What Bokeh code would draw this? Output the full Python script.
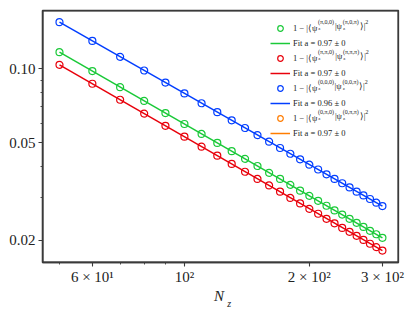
import math
from bokeh.plotting import figure
from bokeh.models import Range1d, FixedTicker, Legend, LegendItem, LogAxis
from bokeh.core.properties import value
from bokeh.embed import file_html
from bokeh.resources import INLINE

NAN = float("nan")

# ---- data ----
n_z = [50, 60, 70, 80, 90, 100, 110, 120, 130, 140, 150, 160, 170, 180,
       190, 200, 210, 220, 230, 240, 250, 260, 270, 280, 290, 300]
green_vals = [0.1168, 0.0979, 0.0842, 0.0740, 0.0660, 0.0596, 0.0543, 0.0499,
              0.0462, 0.0430, 0.0402, 0.0377, 0.0356, 0.0337, 0.0319, 0.0304,
              0.0290, 0.0277, 0.0265, 0.0255, 0.0245, 0.0236, 0.0227, 0.0219,
              0.0212, 0.0205]
red_vals = [0.1038, 0.0869, 0.0748, 0.0657, 0.0586, 0.0529, 0.0482, 0.0443,
            0.0410, 0.0381, 0.0356, 0.0335, 0.0316, 0.0298, 0.0283, 0.0269,
            0.0257, 0.0245, 0.0235, 0.0225, 0.0217, 0.0209, 0.0201, 0.0194,
            0.0188, 0.0182]
blue_vals = [0.1548, 0.1299, 0.1119, 0.0984, 0.0879, 0.0794, 0.0724, 0.0666,
             0.0617, 0.0574, 0.0537, 0.0505, 0.0476, 0.0451, 0.0428, 0.0407,
             0.0389, 0.0372, 0.0356, 0.0342, 0.0329, 0.0316, 0.0305, 0.0295,
             0.0285, 0.0276]
# the orange series shows no points or line in the picture (missing values)
orange_n = [50, 300]
orange_vals = [NAN, NAN]
fit_n = [50, 300]
fit_green = [0.1168, 0.0205]
fit_red = [0.1038, 0.0182]
fit_blue = [0.1548, 0.0276]
fit_orange = [NAN, NAN]

series_sup = [("(π,0,0)", "(π,0,π)"), ("(π,π,0)", "(π,π,π)"),
              ("(0,0,0)", "(0,0,π)"), ("(0,π,0)", "(0,π,π)")]
fit_labels = ["Fit a = 0.97 ± 0", "Fit a = 0.97 ± 0",
              "Fit a = 0.96 ± 0", "Fit a = 0.97 ± 0"]

x_ticks = [60, 100, 200, 300]
x_tick_labels = ["6 × 10¹", "10²", "2 × 10²", "3 × 10²"]
x_minor = [50, 70, 80, 90]
y_ticks = [0.02, 0.05, 0.1]
y_tick_labels = ["0.02", "0.05", "0.10"]
y_minor = [0.03, 0.04, 0.06, 0.07, 0.08, 0.09]
x_label_main, x_label_sub = "N", "z"

colors = ["#1ac938", "#e8000b", "#023eff", "#ff7c00"]
FONT = "Liberation Serif"
TXT = "#222222"
AX = "#3a3a3a"

XMIN, XMAX, YMIN, YMAX = 45.5, 328.0, 0.01627, 0.1727
FL, FT, FW, FH = 42, 10, 356, 252   # frame left/top/width/height (px)
PW, PH = 408, 311

p = figure(width=PW, height=PH, x_axis_type="log", y_axis_type="log",
           x_range=Range1d(XMIN, XMAX), y_range=Range1d(YMIN, YMAX),
           output_backend="svg", toolbar_location=None,
           min_border_left=FL, min_border_right=PW - FL - FW,
           min_border_top=FT, min_border_bottom=PH - FT - FH)
p.grid.grid_line_color = None
p.outline_line_color = AX
p.outline_line_width = 1.3
p.outline_line_alpha = 1.0

# frame box along the range limits (inner half stays visible)
p.quad(left=[XMIN], right=[XMAX], bottom=[YMIN], top=[YMAX],
       fill_color=None, line_color=AX, line_width=2.2)

for ax in (p.xaxis[0], p.yaxis[0]):
    ax.axis_line_color = AX
    ax.axis_line_width = 1.3
    ax.major_tick_line_color = AX
    ax.minor_tick_line_color = AX
    ax.major_tick_line_width = 1.1
    ax.minor_tick_line_width = 0.9
    ax.major_tick_in = 0
    ax.major_tick_out = 4
    ax.minor_tick_in = 0
    ax.minor_tick_out = 2
    ax.major_label_text_font = FONT
    ax.major_label_text_font_size = "15px"
    ax.major_label_text_color = TXT

p.xaxis.ticker = FixedTicker(ticks=x_ticks, minor_ticks=x_minor)
p.xaxis.major_label_overrides = {t: l for t, l in zip(x_ticks, x_tick_labels)}
p.xaxis.major_label_standoff = 2
p.yaxis.ticker = FixedTicker(ticks=y_ticks, minor_ticks=y_minor)
p.yaxis.major_label_overrides = {t: l for t, l in zip(y_ticks, y_tick_labels)}
p.yaxis.major_label_standoff = 3

# pixel -> data helpers (layout of annotation text only)
LX0, LX1 = math.log10(XMIN), math.log10(XMAX)
LY0, LY1 = math.log10(YMIN), math.log10(YMAX)
def px_x(px):
    return 10 ** (LX0 + (px - FL) / FW * (LX1 - LX0))
def px_y(py):
    return 10 ** (LY1 - (py - FT) / FH * (LY1 - LY0))

# x-axis label N_z as two label-only axes
n_pos, z_pos = px_x(218.4), px_x(228.6)
def label_axis(pos, text, size, standoff):
    a = LogAxis(ticker=FixedTicker(ticks=[pos], minor_ticks=[]),
                major_label_overrides={pos: text},
                axis_line_color=None, major_tick_line_color=None,
                minor_tick_line_color=None, major_tick_in=0, major_tick_out=0,
                minor_tick_in=0, minor_tick_out=0,
                major_label_standoff=standoff, major_label_text_font=FONT,
                major_label_text_font_style="italic",
                major_label_text_font_size=size, major_label_text_color=TXT)
    p.add_layout(a, "below")
label_axis(n_pos, x_label_main, "15px", 0)
label_axis(z_pos, x_label_sub, "10px", -9)

data_sets = [(n_z, green_vals, fit_n, fit_green),
             (n_z, red_vals, fit_n, fit_red),
             (n_z, blue_vals, fit_n, fit_blue),
             (orange_n, orange_vals, fit_n, fit_orange)]

items = []
for i, (xs, ys, fx, fy) in enumerate(data_sets):
    c = colors[i]
    sc = p.scatter(xs, ys, marker="circle", size=7, fill_color=None,
                   line_color=c, line_width=1.2)
    ln = p.line(fx, fy, line_color=c, line_width=1.5)
    items.append(LegendItem(label="1 − |⟨ψ", renderers=[sc]))
    items.append(LegendItem(label=fit_labels[i], renderers=[ln]))

legend = Legend(items=items, location=(228, 122), padding=4, margin=0,
                spacing=1, glyph_height=14, glyph_width=20, label_height=14,
                label_standoff=3, label_text_font=FONT,
                label_text_font_size="8.5px", label_text_color=TXT,
                border_line_color=None, background_fill_alpha=0)
p.add_layout(legend)

# remaining parts of the math legend labels, as text glyphs
W = {"(": 0.333, ")": 0.333, ",": 0.25, "0": 0.5, "π": 0.55, "z": 0.444,
     "|": 0.2, "ψ": 0.69, "⟩": 0.39, "2": 0.5}
def width(s, fs):
    return sum(W.get(ch, 0.5) for ch in s) * fs

MS, SS, ZS = 8.5, 6.0, 5.0
groups = {MS: ([], [], []), SS: ([], [], []), ZS: ([], [], [])}
def put(t, px, py, fs):
    gx, gy, gt = groups[fs]
    gx.append(px_x(px)); gy.append(px_y(py)); gt.append(t)

for i, (s1, s2) in enumerate(series_sup):
    cy = 25 + 15 * (2 * i)
    x = 317.5
    put(s1, x, cy - 3.5, SS)
    put("z", x + 0.3, cy + 3.0, ZS)
    x += width(s1, SS) + 0.6
    put("|ψ", x, cy, MS)
    x += width("|ψ", MS) + 0.3
    put(s2, x, cy - 3.5, SS)
    put("z", x + 0.3, cy + 3.0, ZS)
    x += width(s2, SS) + 0.3
    put("⟩|", x, cy, MS)
    x += width("⟩|", MS) + 0.6
    put("2", x, cy - 3.8, SS)

for fs, (gx, gy, gt) in groups.items():
    p.text(x=gx, y=gy, text=gt, text_font=value(FONT),
           text_font_size=value(f"{fs}px"), text_color=TXT,
           text_baseline="middle", text_align="left")

open("out.html", "w").write(file_html(p, INLINE))
